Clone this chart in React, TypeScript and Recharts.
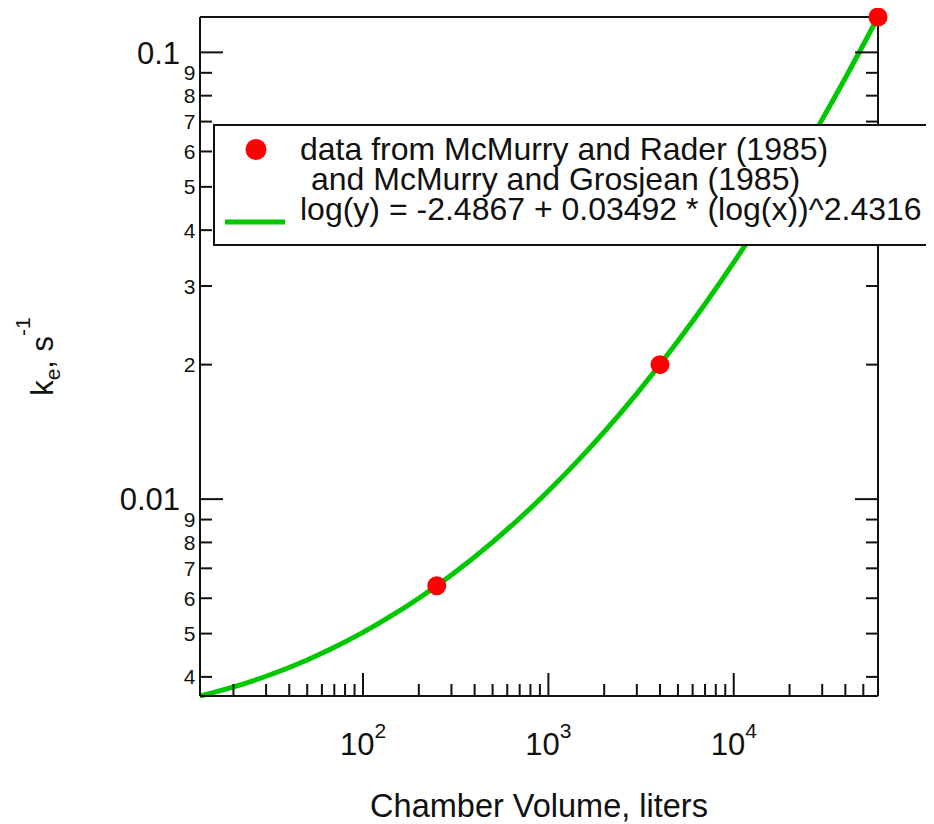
import React from 'react'
import { ComposedChart, Line, Scatter, XAxis, YAxis, Legend } from 'recharts'

const FONT = '"Liberation Sans", Arial, Helvetica, sans-serif'
const INK = '#111'
const GREEN = '#00c800'
const RED = '#ff0000'

// measured chamber data (volume in liters, ke in 1/s)
const measuredVolume = [250, 4000, 60000]
const measuredKe = [0.0064, 0.02, 0.12]

// fitted curve
const fitVolume = [
  13.2, 15, 20, 30, 50, 70, 100, 150, 200, 300, 500, 700, 1000, 1500, 2000,
  3000, 5000, 7000, 10000, 15000, 20000, 30000, 40000, 50000, 60000
]
const fitKe = [
  0.003625, 0.003674, 0.003798, 0.004013, 0.004365, 0.004659, 0.005032,
  0.005554, 0.006001, 0.006765, 0.008013, 0.009062, 0.01043, 0.0124, 0.01414,
  0.01723, 0.02258, 0.02733, 0.03387, 0.04384, 0.05317, 0.0708, 0.08762, 0.104,
  0.12
]

const xTicks = [
  20, 30, 40, 50, 60, 70, 80, 90, 100, 200, 300, 400, 500, 600, 700, 800, 900,
  1000, 2000, 3000, 4000, 5000, 6000, 7000, 8000, 9000, 10000, 20000, 30000,
  40000, 50000
]
const yTicks = [
  0.004, 0.005, 0.006, 0.007, 0.008, 0.009, 0.01, 0.02, 0.03, 0.04, 0.05, 0.06,
  0.07, 0.08, 0.09, 0.1
]
const xDomain = [13.2, 60000]
const yDomain = [0.003625, 0.12]

const measured = measuredVolume.map((x, i) => ({ x, y: measuredKe[i] }))
const fit = fitVolume.map((x, i) => ({ x, y: fitKe[i] }))

const decade = (v: number) => Math.pow(10, Math.floor(Math.log10(v) + 1e-9))
const lead = (v: number) => Math.round(v / decade(v))
const tickLen = (v: number) => (lead(v) === 1 ? 23 : 12)

const LeftTick = ({ x, y, payload }: any) => {
  const v = payload.value
  const major = lead(v) === 1
  return (
    <g>
      <line x1={x} y1={y} x2={x + tickLen(v)} y2={y} stroke={INK} strokeWidth={2} />
      <text
        x={x - (major ? 20 : 4.5)}
        y={y}
        dy="0.36em"
        textAnchor="end"
        fontSize={major ? 31 : 21}
        fontFamily={FONT}
        fill={INK}
      >
        {major ? String(v) : lead(v)}
      </text>
    </g>
  )
}

const RightTick = ({ x, y, payload }: any) => (
  <line x1={x} y1={y} x2={x - tickLen(payload.value)} y2={y} stroke={INK} strokeWidth={2} />
)

const BottomTick = ({ x, y, payload }: any) => {
  const v = payload.value
  const major = lead(v) === 1
  return (
    <g>
      <line x1={x} y1={y} x2={x} y2={y - tickLen(v)} stroke={INK} strokeWidth={2} />
      {major && (
        <text x={x} y={y + 59} textAnchor="middle" fontSize={31} fontFamily={FONT} fill={INK}>
          10
          <tspan fontSize={21} dy={-17}>
            {Math.round(Math.log10(v))}
          </tspan>
        </text>
      )}
    </g>
  )
}

const TopTick = ({ x, y, payload }: any) => (
  <line x1={x} y1={y} x2={x} y2={y + tickLen(payload.value)} stroke={INK} strokeWidth={2} />
)

const XTitle = ({ viewBox }: any) => (
  <text
    x={viewBox.x + viewBox.width / 2}
    y={viewBox.y + 121}
    textAnchor="middle"
    fontSize={32.5}
    fontFamily={FONT}
    fill={INK}
  >
    Chamber Volume, liters
  </text>
)

const YTitle = ({ viewBox }: any) => {
  const cx = 45
  const cy = viewBox.y + viewBox.height / 2
  return (
    <text
      x={cx}
      y={cy}
      transform={`rotate(-90, ${cx}, ${cy})`}
      textAnchor="middle"
      fontSize={31}
      fontFamily={FONT}
      fill={INK}
    >
      k
      <tspan fontSize={21} dy={7}>e</tspan>
      <tspan dy={-7}>, s</tspan>
      <tspan fontSize={21} dy={-23}>-1</tspan>
    </text>
  )
}

const RedDot = ({ cx, cy }: any) => <circle cx={cx} cy={cy} r={9.5} fill={RED} />

const LegendBox = ({ payload }: any) => {
  const items = payload || []
  const dots = items.find((p: any) => p.type === 'circle') || items[0]
  const fitLine = items.find((p: any) => p.type === 'line') || items[1]
  const dotText = String(dots?.value ?? '').split('\n')
  return (
    <svg width={720} height={122} style={{ display: 'block' }}>
      <rect x={1} y={1} width={718} height={120} fill="#fff" stroke={INK} strokeWidth={2} />
      <circle cx={43} cy={25.5} r={10.5} fill={dots?.color || RED} />
      <text x={87} y={36} fontSize={32} fontFamily={FONT} fill={INK}>
        {dotText[0]}
      </text>
      <text x={98} y={66} fontSize={32} fontFamily={FONT} fill={INK}>
        {(dotText[1] || '').trim()}
      </text>
      <line x1={12} y1={98} x2={72} y2={98} stroke={fitLine?.color || GREEN} strokeWidth={5} />
      <text x={87} y={96} fontSize={32} fontFamily={FONT} fill={INK}>
        {fitLine?.value}
      </text>
    </svg>
  )
}

export default function App() {
  return (
    <div style={{ fontFamily: FONT }}>
      <ComposedChart width={926} height={816} margin={{ top: 0, right: 0, bottom: 0, left: 0 }}>
        <XAxis
          xAxisId="b"
          dataKey="x"
          type="number"
          scale="log"
          domain={xDomain}
          ticks={xTicks}
          interval={0}
          height={128}
          tickSize={0}
          tickMargin={0}
          tickLine={false}
          tick={<BottomTick />}
          axisLine={{ stroke: INK, strokeWidth: 2 }}
          label={<XTitle />}
        />
        <XAxis
          xAxisId="t"
          orientation="top"
          type="number"
          scale="log"
          domain={xDomain}
          allowDataOverflow
          ticks={xTicks}
          interval={0}
          height={9}
          tickSize={0}
          tickMargin={0}
          tickLine={false}
          tick={<TopTick />}
          axisLine={{ stroke: INK, strokeWidth: 2 }}
        />
        <YAxis
          yAxisId="l"
          dataKey="y"
          type="number"
          scale="log"
          domain={yDomain}
          ticks={yTicks}
          interval={0}
          width={192}
          tickSize={0}
          tickMargin={0}
          tickLine={false}
          tick={<LeftTick />}
          axisLine={{ stroke: INK, strokeWidth: 2 }}
          label={<YTitle />}
        />
        <YAxis
          yAxisId="r"
          orientation="right"
          type="number"
          scale="log"
          domain={yDomain}
          allowDataOverflow
          ticks={yTicks}
          interval={0}
          width={56}
          tickSize={0}
          tickMargin={0}
          tickLine={false}
          tick={<RightTick />}
          axisLine={{ stroke: INK, strokeWidth: 2 }}
        />
        <Legend
          layout="vertical"
          align="center"
          verticalAlign="middle"
          width={720}
          height={122}
          wrapperStyle={{ left: 205, top: 116, width: 720, height: 122 }}
          content={<LegendBox />}
        />
        <Line
          data={fit}
          dataKey="y"
          xAxisId="b"
          yAxisId="l"
          type="monotone"
          stroke={GREEN}
          strokeWidth={5}
          dot={false}
          activeDot={false}
          legendType="line"
          name="log(y) = -2.4867 + 0.03492 * (log(x))^2.4316"
          isAnimationActive={false}
        />
        <Scatter
          data={measured}
          dataKey="y"
          xAxisId="b"
          yAxisId="l"
          fill={RED}
          shape={<RedDot />}
          legendType="circle"
          name={'data from McMurry and Rader (1985)\n and McMurry and Grosjean (1985)'}
          isAnimationActive={false}
        />
      </ComposedChart>
    </div>
  )
}
